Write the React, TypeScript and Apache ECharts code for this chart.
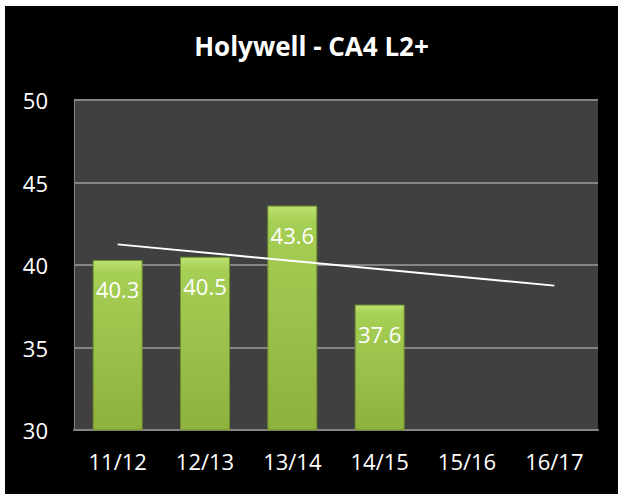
import React, { useEffect, useRef } from "react";
import * as echarts from "echarts";

const titleText = "Holywell - CA4 L2+";
const categories = ["11/12", "12/13", "13/14", "14/15", "15/16", "16/17"];
const barValues: (number | null)[] = [40.3, 40.5, 43.6, 37.6, null, null];
const trendValues: (number | null)[] = [41.25, null, null, null, null, 38.75];
const yMin = 30;
const yMax = 50;
const yStep = 5;

const FONT = "'Open Sans', 'DejaVu Sans', sans-serif";

export default function App() {
  const ref = useRef<HTMLDivElement>(null);
  useEffect(() => {
    document.body.style.margin = "0";
    if (!ref.current) return;
    const chart = echarts.init(ref.current, undefined, { renderer: "svg" });
    chart.setOption({
      animation: false,
      backgroundColor: "#000000",
      title: {
        text: titleText,
        left: "center",
        top: 22,
        textStyle: {
          color: "#ffffff",
          fontFamily: FONT,
          fontWeight: "bold",
          fontSize: 26,
        },
      },
      grid: {
        left: 69,
        right: 20,
        top: 94,
        bottom: 64,
        show: true,
        backgroundColor: "#404040",
        borderWidth: 0,
      },
      xAxis: {
        type: "category",
        data: categories,
        axisLine: { show: true, lineStyle: { color: "#858585", width: 2 } },
        axisTick: { show: false },
        axisLabel: {
          color: "#ffffff",
          fontFamily: FONT,
          fontSize: 22,
          margin: 20,
        },
      },
      yAxis: {
        type: "value",
        min: yMin,
        max: yMax,
        interval: yStep,
        axisLine: { show: true, lineStyle: { color: "#858585", width: 1 } },
        axisTick: { show: false },
        splitLine: { show: true, lineStyle: { color: "#858585", width: 2 } },
        axisLabel: {
          color: "#ffffff",
          fontFamily: FONT,
          fontSize: 22,
          margin: 26,
        },
      },
      series: [
        {
          type: "bar",
          data: barValues,
          barWidth: 50,
          itemStyle: {
            color: new echarts.graphic.LinearGradient(0, 0, 0, 1, [
              { offset: 0, color: "#bde270" },
              { offset: 0.07, color: "#a6cf55" },
              { offset: 1, color: "#8db23d" },
            ]),
            borderColor: "#6f8e2c",
            borderWidth: 1,
          },
          label: {
            show: true,
            position: "insideTop",
            distance: 18,
            color: "#ffffff",
            fontFamily: FONT,
            fontSize: 22,
            formatter: (p: any) => Number(p.value).toFixed(1),
          },
        },
        {
          type: "line",
          data: trendValues,
          connectNulls: true,
          symbol: "none",
          lineStyle: { color: "#ffffff", width: 2 },
          z: 5,
        },
      ],
    });
    return () => chart.dispose();
  }, []);
  return (
    <div style={{ width: 618, height: 494, background: "#ffffff", position: "relative" }}>
      <div
        ref={ref}
        style={{ position: "absolute", left: 5, top: 6, width: 613, height: 488 }}
      />
    </div>
  );
}
